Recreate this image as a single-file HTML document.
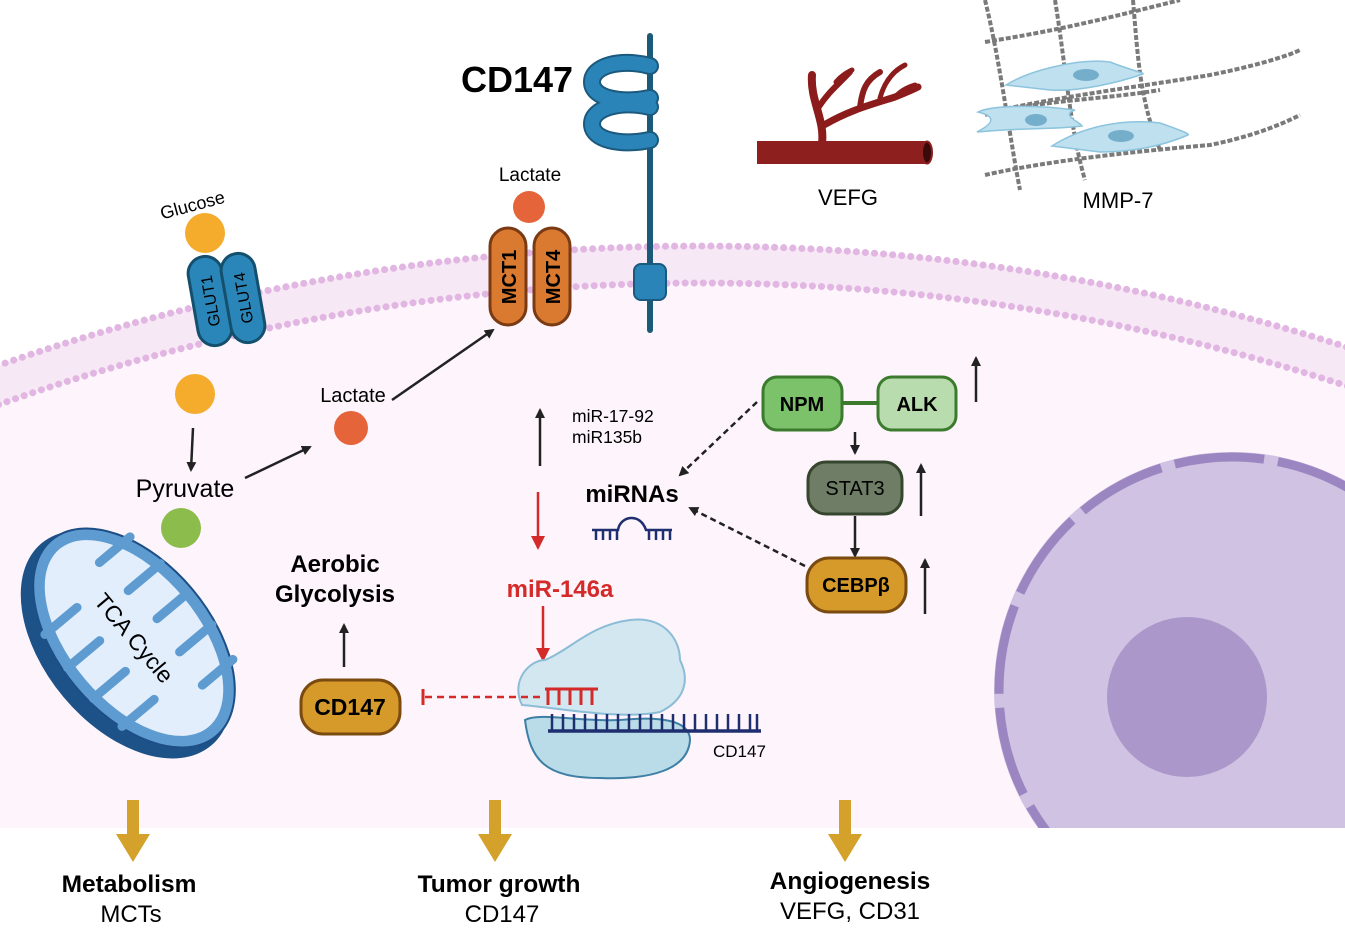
<!DOCTYPE html>
<html><head><meta charset="utf-8"><style>
html,body{margin:0;padding:0;background:#fff;overflow:hidden;width:1345px;height:942px}
svg{display:block}
text{font-family:"Liberation Sans",sans-serif}
</style></head><body>
<svg width="1345" height="942" viewBox="0 0 1345 942" xmlns="http://www.w3.org/2000/svg">
<defs>
<clipPath id="top"><rect x="0" y="0" width="1345" height="828"/></clipPath>
<marker id="ah" markerWidth="10" markerHeight="10" refX="8" refY="5" orient="auto" markerUnits="userSpaceOnUse"><path d="M0,0 L10,5 L0,10 z" fill="#222"/></marker>
<marker id="ar" markerWidth="14" markerHeight="14" refX="12" refY="7" orient="auto" markerUnits="userSpaceOnUse"><path d="M0,0 L14,7 L0,14 z" fill="#d42a2a"/></marker>
</defs>
<rect width="1345" height="942" fill="#fff"/>
<g clip-path="url(#top)">
  <circle cx="700" cy="2366" r="2120" fill="#f7e8f5"/>
  <circle cx="700" cy="2366" r="2083" fill="#fdf5fb"/>
  <circle cx="700" cy="2366" r="2120" fill="none" stroke="#e2b6e2" stroke-width="7" stroke-dasharray="0.1 9" stroke-linecap="round"/>
  <circle cx="700" cy="2366" r="2083" fill="none" stroke="#e2b6e2" stroke-width="7" stroke-dasharray="0.1 9" stroke-linecap="round"/>
  <!-- nucleus -->
  <circle cx="1232" cy="690" r="238" fill="#cfc2e2"/>
  <circle cx="1232" cy="690" r="233" fill="none" stroke="#9c86c2" stroke-width="9" stroke-dasharray="90 14"/>
  <circle cx="1187" cy="697" r="80" fill="#ab97ca"/>
</g>
<rect x="0" y="828" width="1345" height="114" fill="#fff"/>

<!-- top right: vessel -->
<g fill="none" stroke="#8c1c1c" stroke-linecap="round">
  <path d="M822,143 C825,120 810,100 812,75" stroke-width="8"/>
  <path d="M818,108 C830,90 838,85 850,72" stroke-width="6"/>
  <path d="M824,125 C850,110 870,105 895,97 C905,93 912,90 918,87" stroke-width="7"/>
  <path d="M860,108 C862,90 866,80 880,72" stroke-width="6"/>
  <path d="M880,98 C885,80 895,70 905,65" stroke-width="5"/>
  <path d="M895,97 C900,92 905,88 915,85" stroke-width="5"/>
  <path d="M836,82 C842,75 848,72 852,70" stroke-width="5"/>
</g>
<rect x="757" y="141" width="170" height="23" fill="#8e1f1f"/>
<ellipse cx="927" cy="152.5" rx="5" ry="11" fill="#3a0a0a" stroke="#8e1f1f" stroke-width="2"/>
<text x="848" y="205" font-size="22" text-anchor="middle">VEFG</text>

<!-- MMP-7 mesh -->
<g fill="none" stroke="#7a7a7a" stroke-width="4" stroke-dasharray="5 2">
  <path d="M985,42 C1060,30 1100,20 1180,0"/>
  <path d="M1000,110 C1070,95 1150,85 1210,75 C1260,65 1290,55 1300,50"/>
  <path d="M985,175 C1050,160 1150,150 1210,145 C1260,135 1290,120 1300,115"/>
  <path d="M985,115 C1040,100 1100,100 1160,90"/>
  <path d="M985,0 C1000,60 1010,140 1020,190"/>
  <path d="M1055,0 C1065,60 1070,130 1085,180"/>
  <path d="M1133,0 C1138,60 1140,100 1160,150"/>
</g>
<g fill="#bfe0ee" stroke="#8cc4de" stroke-width="1.5">
  <path d="M1006,85 C1030,70 1080,58 1110,62 C1130,70 1145,73 1143,74 C1120,82 1080,92 1050,90 Z"/>
  <path d="M978,112 C990,106 1030,104 1075,110 C1060,115 1080,122 1082,126 C1050,130 1030,127 977,132 C1000,120 990,115 978,112 Z"/>
  <path d="M1052,146 C1080,128 1120,118 1160,123 C1180,130 1190,134 1188,135 C1160,147 1130,152 1100,152 Z"/>
</g>
<g fill="#74aecb"><ellipse cx="1086" cy="75" rx="13" ry="6"/><ellipse cx="1036" cy="120" rx="11" ry="6"/><ellipse cx="1121" cy="136" rx="13" ry="6"/></g>
<text x="1118" y="208" font-size="22" text-anchor="middle">MMP-7</text>

<!-- CD147 receptor -->
<text x="461" y="92" font-size="36" font-weight="bold">CD147</text>
<line x1="650" y1="36" x2="650" y2="330" stroke="#1a5a78" stroke-width="6" stroke-linecap="round"/>
<g fill="none" stroke-linecap="round">
  <path d="M650,66 C620,58 592,66 592,82 C592,98 620,104 650,98 M650,107 C620,100 592,108 592,124 C592,140 620,146 650,140" stroke="#1b5a7e" stroke-width="18"/>
  <path d="M650,66 C620,58 592,66 592,82 C592,98 620,104 650,98 M650,107 C620,100 592,108 592,124 C592,140 620,146 650,140" stroke="#2a84b8" stroke-width="14"/>
</g>
<rect x="634" y="264" width="32" height="36" rx="7" fill="#2a84b8" stroke="#1b5a7e" stroke-width="2"/>

<!-- lactate and MCT -->
<text x="530" y="181" font-size="19" text-anchor="middle">Lactate</text>
<circle cx="529" cy="207" r="16" fill="#e6643a"/>
<rect x="490" y="228" width="36" height="97" rx="18" fill="#d97a30" stroke="#7a3a14" stroke-width="3"/>
<rect x="534" y="228" width="36" height="97" rx="18" fill="#d97a30" stroke="#7a3a14" stroke-width="3"/>
<text transform="translate(516,277) rotate(-90)" font-size="20" font-weight="bold" text-anchor="middle">MCT1</text>
<text transform="translate(560,277) rotate(-90)" font-size="20" font-weight="bold" text-anchor="middle">MCT4</text>

<!-- glucose / GLUT -->
<text transform="translate(194,211) rotate(-15)" font-size="18" text-anchor="middle">Glucose</text>
<circle cx="205" cy="233" r="20" fill="#f5ab2b"/>
<g transform="translate(210,301) rotate(-10)"><rect x="-17" y="-45" width="34" height="90" rx="17" fill="#2a86b8" stroke="#14506e" stroke-width="3"/><text transform="rotate(-90)" y="6" font-size="16" text-anchor="middle">GLUT1</text></g>
<g transform="translate(243,298) rotate(-10)"><rect x="-17" y="-45" width="34" height="90" rx="17" fill="#2a86b8" stroke="#14506e" stroke-width="3"/><text transform="rotate(-90)" y="6" font-size="16" text-anchor="middle">GLUT4</text></g>
<circle cx="195" cy="394" r="20" fill="#f5ab2b"/>
<line x1="193" y1="428" x2="191" y2="470" stroke="#222" stroke-width="2.5" marker-end="url(#ah)"/>
<text x="185" y="497" font-size="25" text-anchor="middle">Pyruvate</text>
<circle cx="181" cy="528" r="20" fill="#8cbc4c"/>
<line x1="245" y1="478" x2="310" y2="447" stroke="#222" stroke-width="2.5" marker-end="url(#ah)"/>
<text x="353" y="402" font-size="20" text-anchor="middle">Lactate</text>
<circle cx="351" cy="428" r="17" fill="#e6643a"/>
<line x1="392" y1="400" x2="493" y2="330" stroke="#222" stroke-width="2.5" marker-end="url(#ah)"/>

<!-- mitochondrion -->
<g transform="translate(134,638) rotate(50)">
  <ellipse cx="0" cy="10" rx="132" ry="82" fill="#1d5288"/>
  <ellipse cx="0" cy="0" rx="128" ry="76" fill="#5e9bd0" stroke="#1d4f86" stroke-width="2"/>
  <ellipse cx="0" cy="0" rx="116" ry="64" fill="#e2eefb"/>
  <g stroke="#5e9bd0" stroke-width="9" stroke-linecap="round">
    <line x1="-80" y1="-62" x2="-80" y2="-22"/><line x1="-40" y1="-68" x2="-40" y2="-26"/><line x1="0" y1="-70" x2="0" y2="-30"/><line x1="40" y1="-68" x2="40" y2="-26"/><line x1="80" y1="-62" x2="80" y2="-22"/>
    <line x1="-60" y1="66" x2="-60" y2="24"/><line x1="-20" y1="70" x2="-20" y2="28"/><line x1="20" y1="70" x2="20" y2="28"/><line x1="60" y1="66" x2="60" y2="24"/>
  </g>
  <text x="0" y="8" font-size="23" text-anchor="middle">TCA Cycle</text>
</g>

<!-- Aerobic glycolysis -->
<text x="335" y="572" font-size="24" font-weight="bold" text-anchor="middle">Aerobic</text>
<text x="335" y="602" font-size="24" font-weight="bold" text-anchor="middle">Glycolysis</text>
<line x1="344" y1="667" x2="344" y2="625" stroke="#222" stroke-width="2.5" marker-end="url(#ah)"/>
<rect x="301" y="680" width="99" height="54" rx="22" fill="#d69a2a" stroke="#7a4a10" stroke-width="3"/>
<text x="350" y="715" font-size="23" font-weight="bold" text-anchor="middle">CD147</text>

<!-- miRNA middle -->
<line x1="540" y1="466" x2="540" y2="410" stroke="#222" stroke-width="2.5" marker-end="url(#ah)"/>
<text x="572" y="422" font-size="17.5">miR-17-92</text>
<text x="572" y="443" font-size="17.5">miR135b</text>
<line x1="538" y1="492" x2="538" y2="548" stroke="#d42a2a" stroke-width="2.5" marker-end="url(#ar)"/>
<text x="632" y="502" font-size="24" font-weight="bold" text-anchor="middle">miRNAs</text>
<g stroke="#1f2e6e" stroke-width="2.5" fill="none">
  <path d="M592,530 L618,530 C620,516 640,512 646,530 L672,530"/>
  <path d="M596,530 v10 M603,530 v10 M610,530 v10 M617,530 v10 M649,530 v10 M656,530 v10 M663,530 v10 M670,530 v10"/>
</g>
<text x="560" y="597" font-size="24" font-weight="bold" fill="#d42a2a" text-anchor="middle">miR-146a</text>
<line x1="543" y1="606" x2="543" y2="660" stroke="#d42a2a" stroke-width="2.5" marker-end="url(#ar)"/>

<!-- ribosome -->
<path d="M522,705 C510,680 530,660 545,660 C570,650 590,625 630,620 C665,616 680,640 680,660 C690,680 685,700 660,712 C620,720 560,708 522,705 Z" fill="#d2e7f0" stroke="#8cbcd6" stroke-width="2"/>
<path d="M525,720 C540,712 580,722 620,720 C660,716 690,720 690,740 C688,770 650,780 600,778 C545,778 530,760 525,720 Z" fill="#b9dce8" stroke="#3e7fa6" stroke-width="2"/>
<g stroke="#d42a2a" stroke-width="3">
  <line x1="545" y1="689" x2="598" y2="689"/>
  <path d="M548,689 v16 M559,689 v16 M570,689 v16 M581,689 v16 M592,689 v16"/>
</g>
<line x1="425" y1="697" x2="540" y2="697" stroke="#d42a2a" stroke-width="2.5" stroke-dasharray="7 5"/>
<line x1="423" y1="689" x2="423" y2="705" stroke="#d42a2a" stroke-width="3"/>
<line x1="548" y1="731" x2="761" y2="731" stroke="#1f2e6e" stroke-width="3.5"/>
<g stroke="#1f2e6e" stroke-width="2.5">
  <path d="M552,731 v-17 M563,731 v-17 M574,731 v-17 M585,731 v-17 M596,731 v-17 M607,731 v-17 M618,731 v-17 M629,731 v-17 M640,731 v-17 M651,731 v-17 M662,731 v-17 M673,731 v-17 M684,731 v-17 M695,731 v-17 M706,731 v-17 M717,731 v-17 M728,731 v-17 M739,731 v-17 M750,731 v-17 M757,731 v-17"/>
</g>
<text x="713" y="757" font-size="17">CD147</text>

<!-- NPM-ALK pathway -->
<line x1="842" y1="403" x2="878" y2="403" stroke="#3c7a2e" stroke-width="4"/>
<rect x="763" y="377" width="79" height="53" rx="14" fill="#7cc26a" stroke="#3c7a2e" stroke-width="3"/>
<text x="802" y="411" font-size="20" font-weight="bold" text-anchor="middle">NPM</text>
<rect x="878" y="377" width="78" height="53" rx="14" fill="#b8dcae" stroke="#3c7a2e" stroke-width="3"/>
<text x="917" y="411" font-size="20" font-weight="bold" text-anchor="middle">ALK</text>
<line x1="976" y1="402" x2="976" y2="358" stroke="#222" stroke-width="2.5" marker-end="url(#ah)"/>
<line x1="855" y1="432" x2="855" y2="453" stroke="#222" stroke-width="2.5" marker-end="url(#ah)"/>
<rect x="808" y="462" width="94" height="52" rx="18" fill="#6f7d66" stroke="#36462e" stroke-width="3"/>
<text x="855" y="495" font-size="20" text-anchor="middle">STAT3</text>
<line x1="921" y1="516" x2="921" y2="465" stroke="#222" stroke-width="2.5" marker-end="url(#ah)"/>
<line x1="855" y1="516" x2="855" y2="556" stroke="#222" stroke-width="2.5" marker-end="url(#ah)"/>
<rect x="807" y="558" width="99" height="54" rx="22" fill="#d69a2a" stroke="#7a4a10" stroke-width="3"/>
<text x="856" y="592" font-size="20" font-weight="bold" text-anchor="middle">CEBPβ</text>
<line x1="925" y1="614" x2="925" y2="560" stroke="#222" stroke-width="2.5" marker-end="url(#ah)"/>
<line x1="757" y1="402" x2="680" y2="475" stroke="#222" stroke-width="2.5" stroke-dasharray="6 4" marker-end="url(#ah)"/>
<line x1="805" y1="566" x2="690" y2="508" stroke="#222" stroke-width="2.5" stroke-dasharray="6 4" marker-end="url(#ah)"/>

<!-- bottom gold arrows -->
<g fill="#d4a22a">
  <rect x="127" y="800" width="12" height="36"/><path d="M116,834 L150,834 L133,862 Z"/>
  <rect x="489" y="800" width="12" height="36"/><path d="M478,834 L512,834 L495,862 Z"/>
  <rect x="839" y="800" width="12" height="36"/><path d="M828,834 L862,834 L845,862 Z"/>
</g>
<text x="129" y="892" font-size="24.5" font-weight="bold" text-anchor="middle">Metabolism</text>
<text x="131" y="922" font-size="24" text-anchor="middle">MCTs</text>
<text x="499" y="892" font-size="24.5" font-weight="bold" text-anchor="middle">Tumor growth</text>
<text x="502" y="922" font-size="24" text-anchor="middle">CD147</text>
<text x="850" y="889" font-size="24.5" font-weight="bold" text-anchor="middle">Angiogenesis</text>
<text x="850" y="919" font-size="24" text-anchor="middle">VEFG, CD31</text>
</svg>
</body></html>
